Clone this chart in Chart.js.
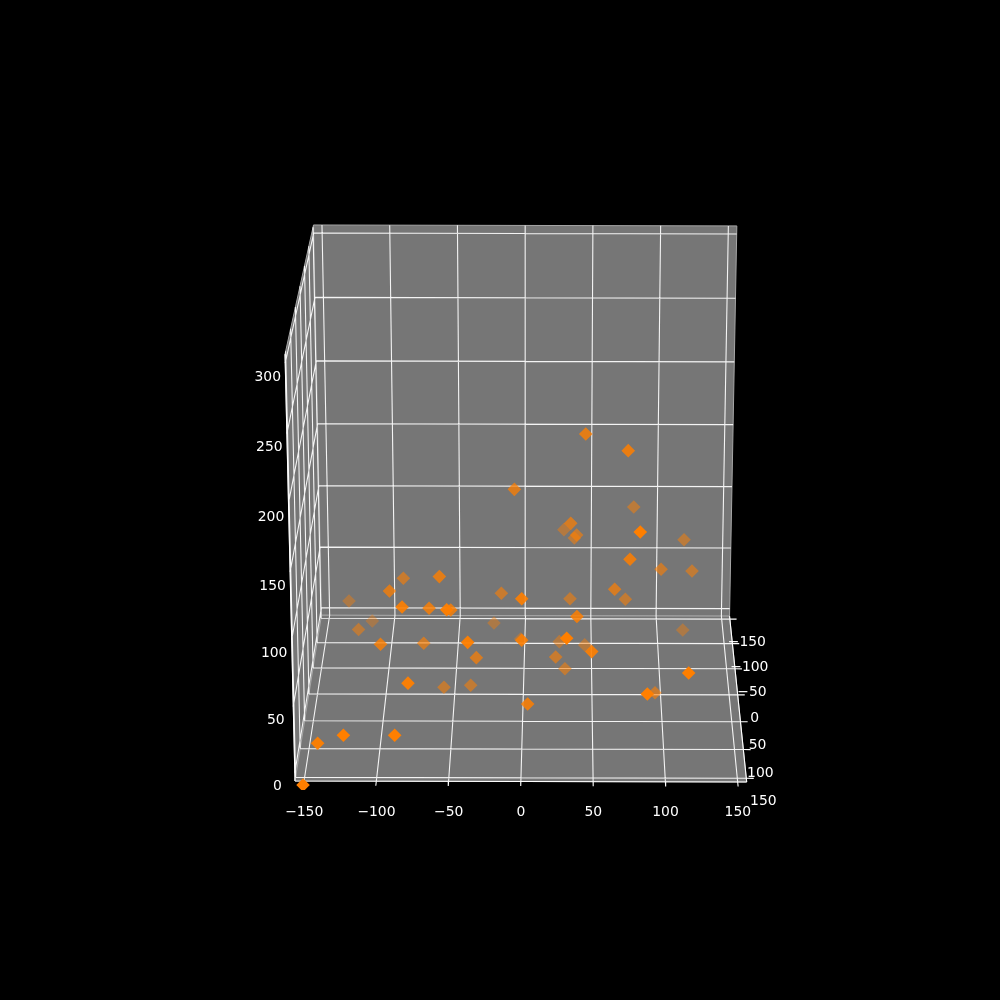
<!DOCTYPE html>
<html>
<head>
<meta charset="utf-8">
<title>3D scatter</title>
<script src="https://cdn.jsdelivr.net/npm/chart.js@4/dist/chart.umd.js"></script>
<style>
    html, body { margin: 0; padding: 0; background: #000; }
    canvas { display: block; }
</style>
</head>
<body>
<canvas id="chart" width="1000" height="1000"></canvas>
<script>
// Tick labels of the three axes
var xTicks = [-150, -100, -50, 0, 50, 100, 150];
var yTicks = [-150, -100, -50, 0, 50, 100, 150];
var zTicks = [0, 50, 100, 150, 200, 250, 300];

// Markers as seen on the picture, read against the front x and z axes
var seriesX = [-4.6, -81.4, -56.5, -91, -119, -82.3, -63.6, -51.4, -48.6, -13.6, 0.5, -102.9, -18.7, 44.8, 74.2, 78, 34.4, 29.7, 38.5, 36.9, 82.5, 112.8, 75.4, 96.9, 118.3, 64.8, 72.2, 33.9, 38.7, -112.4, -97.2, -67.3, -36.9, -30.9, -78.2, -53.3, -34.8, 4.6, -122.9, -87.4, -140.7, -150.8, -0.2, 0.5, 26.5, 31.6, 44.1, 48.9, 24, 30.4, 111.9, 92.7, 87.4, 116];
var seriesZ = [207.5, 142.4, 143.6, 133.1, 125.8, 121.4, 120.4, 119.4, 119.2, 131.4, 127.4, 111.1, 109.7, 248, 235.8, 194.6, 182.6, 178, 174.1, 171.9, 176.3, 170.6, 156.3, 149, 147.7, 134.3, 127, 127.4, 114.4, 104.9, 94.1, 94.8, 95.5, 84.3, 65.6, 62.6, 64.1, 50.4, 27.5, 27.5, 21.6, -8.9, 97.9, 97, 96, 98.5, 93.6, 88.7, 84.8, 76.2, 104.5, 58.6, 57.7, 73.1];
// How far each marker has faded with depth
var seriesShade = [0.75, 0.6, 0.8, 0.75, 0.4, 0.9, 0.8, 0.95, 0.8, 0.6, 0.9, 0.35, 0.4, 0.8, 0.85, 0.5, 0.7, 0.45, 0.6, 0.5, 1, 0.5, 0.85, 0.6, 0.55, 0.7, 0.55, 0.55, 0.85, 0.5, 0.8, 0.65, 0.95, 0.7, 0.95, 0.55, 0.55, 0.85, 1, 1, 0.95, 1, 0.4, 0.85, 0.45, 1, 0.45, 0.9, 0.6, 0.55, 0.4, 0.6, 1, 1];

var fontSpec = { family: 'DejaVu Sans', size: 13.9 };

// Perspective of the box, u: left to right, v: front to back, w: bottom to top
function project(u, v, w) {
    var d = 1 + 0.107 * v - 0.04 * w;
    var px = (295 + 451.7 * u + 60.9 * v - 21.4 * w) / d;
    var py = (781 + u - 99.9 * v - 441 * w) / d;
    return { x: (px - 521) / 1.4454, y: (772.8 - py) / 1.366 };
}

// Axis limits carry a small margin inside the panes
function normX(x) { return (x + 156.25) / 312.5; }
function normY(y) { return (156.25 - y) / 312.5; }
function normZ(z) { return (z + 6.25) / 312.5; }

function segments(list) {
    var out = [];
    list.forEach(function(s) {
        out.push(project(s[0], s[1], s[2]));
        out.push(project(s[3], s[4], s[5]));
        out.push({ x: NaN, y: NaN });
    });
    return out;
}

var gridParts = [];
xTicks.forEach(function(t) {
    var u = normX(t);
    gridParts.push([u, 0, 0, u, 1, 0]);
    gridParts.push([u, 1, 0, u, 1, 1]);
});
yTicks.forEach(function(t) {
    var v = normY(t);
    gridParts.push([1, v, 0, 0, v, 0]);
    gridParts.push([0, v, 0, 0, v, 1]);
});
zTicks.forEach(function(t) {
    var w = normZ(t);
    gridParts.push([0, 0, w, 0, 1, w]);
    gridParts.push([0, 1, w, 1, 1, w]);
});

var tickParts = [];
xTicks.forEach(function(t) { tickParts.push([normX(t), 0, 0, normX(t), -0.025, 0]); });
yTicks.forEach(function(t) { tickParts.push([1, normY(t), 0, 1.0165, normY(t), 0]); });

var axisParts = [
    [0, 0, 0, 1, 0, 0],
    [1, 0, 0, 1, 1, 0],
    [0, 0, 0, 0, 0, 1]
];

var paneCorners = [
    [[0, 0, 0], [1, 0, 0], [1, 1, 0], [0, 1, 0], [0, 0, 0]],
    [[0, 1, 0], [1, 1, 0], [1, 1, 1], [0, 1, 1], [0, 1, 0]],
    [[0, 0, 0], [0, 1, 0], [0, 1, 1], [0, 0, 1], [0, 0, 0]]
];

function lineSet(data, color, width, order) {
    return {
        type: 'line',
        data: data,
        borderColor: color,
        borderWidth: width,
        pointRadius: 0,
        tension: 0,
        spanGaps: false,
        fill: false,
        order: order
    };
}

var datasets = [];
paneCorners.forEach(function(pane) {
    var set = lineSet(pane.map(function(c) { return project(c[0], c[1], c[2]); }), '#a6a6a6', 1, 4);
    set.fill = 'shape';
    set.backgroundColor = '#767676';
    datasets.push(set);
});
datasets.push(lineSet(segments(gridParts), 'rgba(255,255,255,0.92)', 1.1, 3));
datasets.push(lineSet(segments(tickParts), '#ffffff', 1.1, 2));
datasets.push(lineSet(segments(axisParts), '#ffffff', 1.1, 2));
datasets.push({
    type: 'scatter',
    data: seriesX.map(function(x, i) { return { x: x, y: seriesZ[i] }; }),
    pointStyle: 'rectRot',
    pointRadius: 6.8,
    pointBorderWidth: 0,
    pointBackgroundColor: seriesShade.map(function(a) { return 'rgba(255,127,0,' + a + ')'; }),
    order: 1
});

// z and y labels follow the slanted edges of the box
var slantedLabels = {
    id: 'slantedLabels',
    afterDatasetsDraw: function(chart) {
        var ctx = chart.ctx;
        ctx.save();
        ctx.font = fontSpec.size + 'px "' + fontSpec.family + '"';
        ctx.fillStyle = '#ffffff';
        ctx.textAlign = 'center';
        ctx.textBaseline = 'middle';
        zTicks.forEach(function(t) {
            var p = project(0, 0, normZ(t));
            ctx.fillText(String(t), chart.scales.x.getPixelForValue(p.x) - 17.5, chart.scales.y.getPixelForValue(p.y) + 14);
        });
        yTicks.forEach(function(t) {
            var p = project(1, normY(t), 0);
            ctx.fillText(String(t).replace('-', '\u2212'), chart.scales.x.getPixelForValue(p.x) + 17, chart.scales.y.getPixelForValue(p.y) + 23.5);
        });
        ctx.restore();
    }
};

var chart = new Chart(document.querySelector('#chart').getContext('2d'), {
    type: 'scatter',
    data: { datasets: datasets },
    plugins: [slantedLabels],
    options: {
        responsive: false,
        animation: false,
        devicePixelRatio: 1,
        layout: { padding: 0, autoPadding: false },
        plugins: { legend: { display: false }, tooltip: { enabled: false } },
        scales: {
            x: {
                min: -187.5,
                max: 331.4,
                grid: { display: false, drawTicks: false },
                border: { display: false },
                afterFit: function(s) { s.height = 210; s.paddingLeft = 0; s.paddingRight = 0; },
                afterBuildTicks: function(s) {
                    s.ticks = xTicks.map(function(v) { return { value: v }; });
                },
                ticks: {
                    color: '#ffffff',
                    font: fontSpec,
                    padding: 14,
                    maxRotation: 0,
                    autoSkip: false,
                    callback: function(v) { return String(v).replace('-', '\u2212'); }
                }
            },
            y: {
                min: -12.6,
                max: 565.7,
                grid: { display: false, drawTicks: false },
                border: { display: false },
                afterFit: function(s) { s.width = 250; s.paddingTop = 0; s.paddingBottom = 0; },
                ticks: { display: false }
            }
        }
    }
});
</script>
</body>
</html>
